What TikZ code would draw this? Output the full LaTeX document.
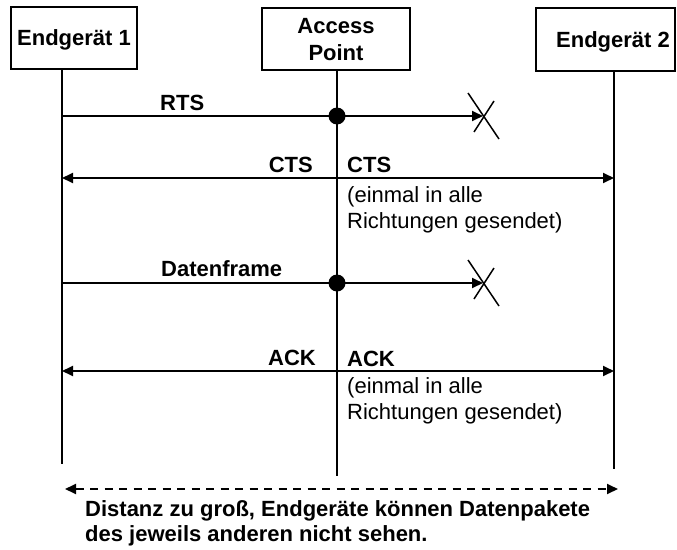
\documentclass[tikz,border=0pt]{standalone}
\usepackage{fontspec}
\setmainfont{Liberation Sans}
\usetikzlibrary{arrows.meta}
\begin{document}
\begin{tikzpicture}[x=1pt,y=-1pt,
  box/.style={draw, line width=1.8pt, inner sep=0pt, text depth=0pt,
    font=\fontsize{22}{27}\selectfont\bfseries, align=center},
  life/.style={line width=1.8pt},
  msg/.style={line width=1.8pt, -{Triangle[length=11pt,width=10pt]}},
  cross/.style={line width=1.5pt},
  dot/.style={circle, fill, inner sep=0pt, minimum size=17pt},
  lbl/.style={font=\fontsize{22}{25.5}\selectfont\bfseries, inner sep=0pt},
  note/.style={font=\fontsize{22}{26.5}\selectfont, inner sep=0pt},
  distarrow/.style={line width=1.8pt, dash pattern=on 8pt off 6.5pt,
    {Triangle[length=11pt,width=10pt]}-{Triangle[length=11pt,width=10pt]}}]
\useasboundingbox (0,0) rectangle (677,549);

% participants
\node[box, minimum width=126pt, minimum height=62pt] (e1) at (74,38) {Endgerät 1};
\node[box, minimum width=148pt, minimum height=62pt] (ap) at (336,39) {Access\\Point};
\node[box, minimum width=139pt, minimum height=63pt] (e2) at (605.5,39.5) {\hspace*{15pt}Endgerät 2};

% lifelines
\coordinate (e1end) at (62,464);
\coordinate (apend) at (337,476);
\coordinate (e2end) at (614,469);
\draw[life] (e1.south -| e1end) -- (e1end);
\draw[life] (ap.south -| apend) -- (apend);
\draw[life] (e2.south -| e2end) -- (e2end);

% RTS, lost on the way to Endgerät 2
\coordinate (rtsA) at (62,116);
\coordinate (rtsX) at (483,116);
\draw[msg] (rtsA) -- (rtsX);
\node[dot] (rtsdot) at (337,116) {};
\draw[cross] (rtsX) ++(-15,-23) -- ++(31,46);
\draw[cross] (rtsX) ++(11,-15) -- ++(-20,31);
\node[lbl, anchor=base west] (rtslbl) at (160,110) {RTS};

% CTS broadcast by the access point
\coordinate (cts) at (337,178);
\draw[msg] (cts) -- (cts -| e1end);
\draw[msg] (cts) -- (cts -| e2end);
\node[lbl, anchor=base east] (ctsl) at (313,172) {CTS};
\node[lbl, anchor=base west] (ctsr) at (347,172) {CTS};
\node[note, anchor=base west] (ctsnote) at (347,202)
  {\begin{tabular}[t]{@{}l@{}}(einmal in alle\\Richtungen gesendet)\end{tabular}};

% data frame, lost on the way to Endgerät 2
\coordinate (datA) at (62,283);
\coordinate (datX) at (483,283);
\draw[msg] (datA) -- (datX);
\node[dot] (datdot) at (337,283) {};
\draw[cross] (datX) ++(-15,-23) -- ++(31,46);
\draw[cross] (datX) ++(11,-15) -- ++(-20,31);
\node[lbl, anchor=base west] (datlbl) at (161,276) {Datenframe};

% ACK broadcast by the access point
\coordinate (ack) at (337,371);
\draw[msg] (ack) -- (ack -| e1end);
\draw[msg] (ack) -- (ack -| e2end);
\node[lbl, anchor=base east] (ackl) at (316,365) {ACK};
\node[lbl, anchor=base west] (ackr) at (347,366) {ACK};
\node[note, anchor=base west] (acknote) at (347,393)
  {\begin{tabular}[t]{@{}l@{}}(einmal in alle\\Richtungen gesendet)\end{tabular}};

% distance between the two end devices
\coordinate (distA) at (65,489);
\coordinate (distB) at (618,489);
\draw[distarrow] (distA) -- (distB);
\node[lbl, anchor=base west] (distlbl) at (85,516)
  {\begin{tabular}[t]{@{}l@{}}Distanz zu groß, Endgeräte können Datenpakete\\des jeweils anderen nicht sehen.\end{tabular}};
\end{tikzpicture}
\end{document}
